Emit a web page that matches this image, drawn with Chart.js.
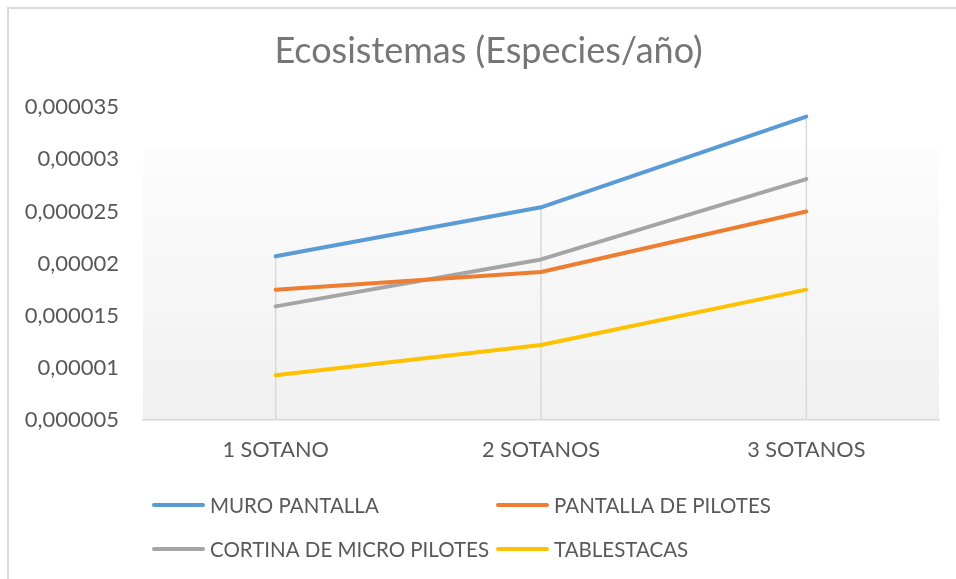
<!DOCTYPE html>
<html>
<head>
<meta charset="utf-8">
<script src="https://cdn.jsdelivr.net/npm/chart.js@4.4.1/dist/chart.umd.min.js"></script>
<style>
  html, body { margin: 0; padding: 0; background: #ffffff; }
  #wrap { width: 956px; height: 579px; position: relative; }
</style>
</head>
<body>
<div id="wrap"><canvas id="c" width="956" height="579"></canvas></div>
<script>
const categories = ['1 SOTANO', '2 SOTANOS', '3 SOTANOS'];
const seriesNames = ['MURO PANTALLA', 'PANTALLA DE PILOTES', 'CORTINA DE MICRO PILOTES', 'TABLESTACAS'];
const muroPantalla = [0.0000207, 0.0000254, 0.0000341];
const pantallaPilotes = [0.0000175, 0.0000192, 0.0000250];
const cortinaMicroPilotes = [0.0000159, 0.0000204, 0.0000281];
const tablestacas = [0.0000093, 0.0000122, 0.0000175];
const yTickValues = [0.000005, 0.00001, 0.000015, 0.00002, 0.000025, 0.00003, 0.000035];
const yTickLabels = ['0,000005', '0,00001', '0,000015', '0,00002', '0,000025', '0,00003', '0,000035'];
const titleText = 'Ecosistemas (Especies/año)';

const seriesValues = [muroPantalla, pantallaPilotes, cortinaMicroPilotes, tablestacas];
const colors = ['#5B9BD5', '#ED7D31', '#A5A5A5', '#FFC000'];
const FONT = 'Lato, "Open Sans", sans-serif';

const bgPlugin = {
  id: 'bg',
  afterLayout(chart) {
    // center the title like the reference (centered inside the bordered chart frame)
    if (chart.titleBlock) { chart.titleBlock.left = 38; chart.titleBlock.right = 939; }
  },
  beforeDraw(chart) {
    const ctx = chart.ctx, a = chart.chartArea;
    ctx.save();
    ctx.strokeStyle = '#d9d9d9';
    ctx.lineWidth = 2;
    ctx.beginPath();
    ctx.moveTo(8, 579); ctx.lineTo(8, 8); ctx.lineTo(956, 8);
    ctx.stroke();
    const top = a.top + 41;
    const g = ctx.createLinearGradient(0, top, 0, a.bottom);
    g.addColorStop(0, '#fdfdfd');
    g.addColorStop(1, '#f0f0f0');
    ctx.fillStyle = g;
    ctx.fillRect(a.left, top, a.right - a.left, a.bottom - top);
    ctx.restore();
  },
  beforeDatasetsDraw(chart) {
    const ctx = chart.ctx, a = chart.chartArea;
    const xs = chart.scales.x, ys = chart.scales.y;
    ctx.save();
    ctx.strokeStyle = '#d9d9d9';
    ctx.lineWidth = 1.5;
    categories.forEach((c, i) => {
      let m = -Infinity;
      chart.data.datasets.forEach(ds => { m = Math.max(m, ds.data[i]); });
      const x = xs.getPixelForValue(i);
      ctx.beginPath();
      ctx.moveTo(x, ys.getPixelForValue(m));
      ctx.lineTo(x, a.bottom);
      ctx.stroke();
    });
    ctx.restore();
  },
  afterDraw(chart) {
    const ctx = chart.ctx;
    const colX = [152, 496];
    const rowY = [505, 549];
    ctx.save();
    chart.data.datasets.forEach((ds, i) => {
      const x0 = colX[i % 2], y = rowY[Math.floor(i / 2)];
      ctx.strokeStyle = ds.borderColor;
      ctx.lineWidth = 4;
      ctx.lineCap = 'round';
      ctx.beginPath();
      ctx.moveTo(x0 + 2, y); ctx.lineTo(x0 + 51, y);
      ctx.stroke();
      ctx.fillStyle = '#595959';
      ctx.font = '20.5px ' + FONT;
      ctx.textBaseline = 'middle';
      ctx.textAlign = 'left';
      ctx.fillText(ds.label, x0 + 58, y + 1);
    });
    ctx.restore();
  }
};

new Chart(document.getElementById('c'), {
  type: 'line',
  data: {
    labels: categories,
    datasets: seriesNames.map((n, i) => ({
      label: n,
      data: seriesValues[i],
      borderColor: colors[i],
      backgroundColor: colors[i],
      borderWidth: 4,
      borderCapStyle: 'round',
      borderJoinStyle: 'round',
      pointRadius: 0,
      tension: 0,
      fill: false
    }))
  },
  options: {
    responsive: false,
    animation: false,
    devicePixelRatio: 1,
    layout: { padding: { left: 0, right: 17, top: 30, bottom: 115.6 } },
    plugins: {
      legend: { display: false },
      tooltip: { enabled: false },
      title: {
        display: true,
        text: titleText,
        color: '#767676',
        font: { family: FONT, size: 36, weight: 'normal' },
        padding: { top: 0, bottom: 34 }
      }
    },
    scales: {
      x: {
        offset: true,
        grid: { display: false, drawTicks: false },
        border: { display: true, color: '#d9d9d9', width: 1.5 },
        ticks: { color: '#595959', font: { family: FONT, size: 21.7 }, padding: 17, maxRotation: 0 },
        afterFit(s) { s.height = 43.4; }
      },
      y: {
        min: 0.000005,
        max: 0.000035,
        grid: { display: false, drawTicks: false },
        border: { display: false },
        afterBuildTicks(s) { s.ticks = yTickValues.map(v => ({ value: v })); },
        afterFit(s) { s.width = 143; },
        ticks: {
          color: '#595959',
          font: { family: FONT, size: 22 },
          padding: 24,
          callback: (v, i) => yTickLabels[i]
        }
      }
    }
  },
  plugins: [bgPlugin]
});
</script>
</body>
</html>
